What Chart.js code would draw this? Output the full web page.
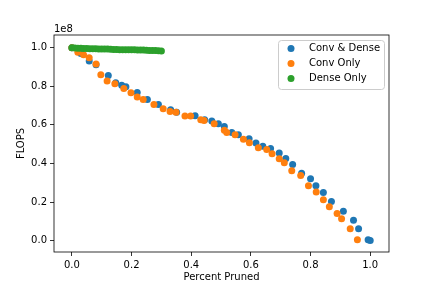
<!DOCTYPE html>
<html>
<head>
<meta charset="utf-8">
<script src="https://cdn.jsdelivr.net/npm/chart.js@4.4.1/dist/chart.umd.min.js"></script>
<style>
    html, body { margin: 0; padding: 0; background: #fff; }
    #chart { display: block; }
</style>
</head>
<body>
<canvas id="chart" width="432" height="288"></canvas>
<script>
// values; FLOPS are in units of 1e8
const convDenseX = [0.000, 0.030, 0.058, 0.081, 0.122, 0.147, 0.167, 0.181, 0.219, 0.253,
    0.290, 0.331, 0.351, 0.413, 0.445, 0.469, 0.491, 0.511, 0.536, 0.558,
    0.594, 0.617, 0.640, 0.666, 0.695, 0.717, 0.740, 0.770, 0.800, 0.818,
    0.843, 0.870, 0.910, 0.944, 0.961, 0.993, 1.000];
const convDenseY = [1.000, 0.970, 0.931, 0.912, 0.856, 0.819, 0.806, 0.798, 0.768, 0.731,
    0.706, 0.679, 0.666, 0.648, 0.627, 0.620, 0.606, 0.592, 0.560, 0.549,
    0.528, 0.506, 0.489, 0.477, 0.454, 0.426, 0.395, 0.349, 0.321, 0.284,
    0.249, 0.203, 0.152, 0.105, 0.062, 0.004, 0.000];

const convOnlyX = [0.000, 0.020, 0.039, 0.058, 0.081, 0.097, 0.118, 0.144, 0.174, 0.198,
    0.219, 0.239, 0.275, 0.306, 0.329, 0.349, 0.379, 0.398, 0.432, 0.443,
    0.477, 0.511, 0.519, 0.547, 0.575, 0.595, 0.625, 0.653, 0.671, 0.695,
    0.712, 0.737, 0.767, 0.793, 0.819, 0.843, 0.863, 0.889, 0.904, 0.933, 0.957];
const convOnlyY = [1.000, 0.976, 0.963, 0.948, 0.916, 0.860, 0.827, 0.813, 0.788, 0.767,
    0.744, 0.732, 0.706, 0.684, 0.670, 0.665, 0.646, 0.646, 0.627, 0.623,
    0.606, 0.572, 0.560, 0.549, 0.526, 0.508, 0.482, 0.472, 0.451, 0.425,
    0.404, 0.362, 0.337, 0.284, 0.252, 0.212, 0.175, 0.140, 0.114, 0.062, 0.005];

const denseOnlyX = [0.00, 0.01, 0.02, 0.03, 0.04, 0.05, 0.06, 0.07, 0.08, 0.09,
    0.10, 0.11, 0.12, 0.13, 0.14, 0.15, 0.16, 0.17, 0.18, 0.19,
    0.20, 0.21, 0.22, 0.23, 0.24, 0.25, 0.26, 0.27, 0.28, 0.29, 0.30];
const denseOnlyY = [1.000, 0.998, 0.997, 0.997, 0.996, 0.996, 0.995, 0.995, 0.995, 0.994,
    0.994, 0.993, 0.993, 0.992, 0.991, 0.991, 0.990, 0.990, 0.990, 0.989,
    0.989, 0.989, 0.988, 0.988, 0.988, 0.987, 0.986, 0.985, 0.985, 0.984, 0.983];

const seriesNames = ["Conv & Dense", "Conv Only", "Dense Only"];
const seriesColors = ["#1f77b4", "#ff7f0e", "#2ca02c"];
const xTickValues = [0.0, 0.2, 0.4, 0.6, 0.8, 1.0];
const yTickValues = [0.0, 0.2, 0.4, 0.6, 0.8, 1.0];

const FONT = "DejaVu Sans";

function toPoints(xs, ys) {
    return xs.map((x, i) => ({ x: x, y: ys[i] }));
}

// spines, the "1e8" offset text and a matplotlib-like legend
const frame = {
    id: "frame",
    afterDraw(chart) {
        const { ctx, chartArea: a } = chart;
        ctx.save();
        ctx.strokeStyle = "#000";
        ctx.lineWidth = 0.8;
        ctx.strokeRect(a.left, a.top, a.right - a.left, a.bottom - a.top);

        ctx.fillStyle = "#000";
        ctx.font = "10px '" + FONT + "'";
        ctx.textAlign = "left";
        ctx.textBaseline = "alphabetic";
        ctx.fillText("1e8", a.left, a.top - 3);

        // legend box
        const lx = 278.5, ly = 40.5, lw = 106, lh = 49, r = 3;
        ctx.beginPath();
        ctx.moveTo(lx + r, ly);
        ctx.arcTo(lx + lw, ly, lx + lw, ly + lh, r);
        ctx.arcTo(lx + lw, ly + lh, lx, ly + lh, r);
        ctx.arcTo(lx, ly + lh, lx, ly, r);
        ctx.arcTo(lx, ly, lx + lw, ly, r);
        ctx.closePath();
        ctx.fillStyle = "rgba(255,255,255,0.8)";
        ctx.fill();
        ctx.strokeStyle = "#cccccc";
        ctx.lineWidth = 1;
        ctx.stroke();

        ctx.textBaseline = "middle";
        seriesNames.forEach((name, i) => {
            const y = 48.5 + i * 15;
            ctx.beginPath();
            ctx.arc(291, y, 3.5, 0, Math.PI * 2);
            ctx.fillStyle = seriesColors[i];
            ctx.fill();
            ctx.fillStyle = "#000";
            ctx.fillText(name, 309, y);
        });
        ctx.restore();
    }
};

const ctx = document.getElementById("chart").getContext("2d");

new Chart(ctx, {
    type: "scatter",
    data: {
        datasets: [
            {
                label: seriesNames[0],
                data: toPoints(convDenseX, convDenseY),
                backgroundColor: seriesColors[0],
                order: 3,
            },
            {
                label: seriesNames[1],
                data: toPoints(convOnlyX, convOnlyY),
                backgroundColor: seriesColors[1],
                order: 2,
            },
            {
                label: seriesNames[2],
                data: toPoints(denseOnlyX, denseOnlyY),
                backgroundColor: seriesColors[2],
                order: 1,
            },
        ]
    },
    options: {
        responsive: false,
        animation: false,
        devicePixelRatio: 1,
        elements: {
            point: { radius: 3.5, borderWidth: 0, hoverRadius: 3.5 }
        },
        layout: {
            padding: { left: 0, right: 43, top: 35, bottom: 0 }
        },
        plugins: {
            legend: { display: false },
            tooltip: { enabled: false }
        },
        scales: {
            x: {
                type: "linear",
                min: -0.06,
                max: 1.063,
                afterBuildTicks: scale => { scale.ticks = xTickValues.map(v => ({ value: v })); },
                afterFit: scale => { scale.height = 36; },
                border: { display: false },
                grid: {
                    drawOnChartArea: false,
                    drawTicks: true,
                    tickLength: 4,
                    color: "#000",
                    lineWidth: 0.8
                },
                ticks: {
                    padding: 3,
                    color: "#000",
                    maxRotation: 0,
                    font: { family: FONT, size: 10 },
                    callback: v => v.toFixed(1)
                },
                title: {
                    display: true,
                    text: "Percent Pruned",
                    color: "#000",
                    font: { family: FONT, size: 10 },
                    padding: { top: 0, bottom: 5 }
                }
            },
            y: {
                type: "linear",
                min: -0.059,
                max: 1.066,
                afterBuildTicks: scale => { scale.ticks = yTickValues.map(v => ({ value: v })); },
                afterFit: scale => { scale.width = 54; },
                border: { display: false },
                grid: {
                    drawOnChartArea: false,
                    drawTicks: true,
                    tickLength: 4,
                    color: "#000",
                    lineWidth: 0.8
                },
                ticks: {
                    padding: 3,
                    color: "#000",
                    font: { family: FONT, size: 10 },
                    callback: v => v.toFixed(1)
                },
                title: {
                    display: true,
                    text: "FLOPS",
                    color: "#000",
                    font: { family: FONT, size: 10 },
                    padding: { top: 15, bottom: 0 }
                }
            }
        }
    },
    plugins: [frame]
});
</script>
</body>
</html>
